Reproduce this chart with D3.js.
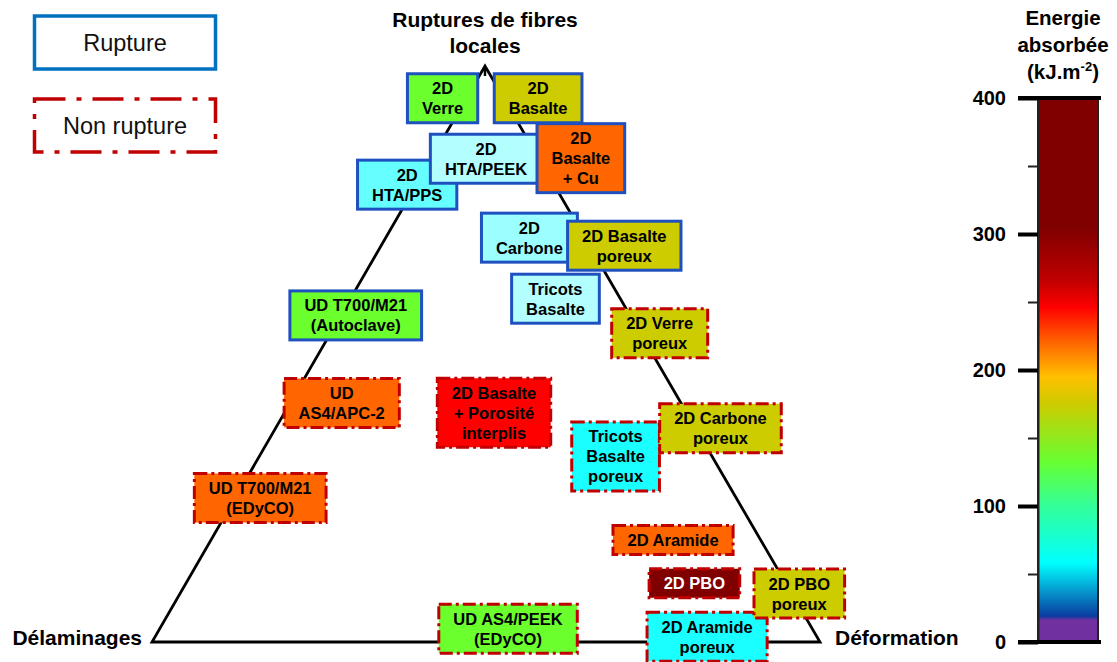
<!DOCTYPE html>
<html>
<head>
<meta charset="utf-8">
<script src="https://cdn.jsdelivr.net/npm/d3@7"></script>
<style>
  html, body { margin: 0; padding: 0; background: #fff; }
  svg { display: block; font-family: "Liberation Sans", Arial, sans-serif; }
</style>
</head>
<body>
<svg id="chart" width="1117" height="662"></svg>
<script>
// ---------------- DATA ----------------
const materials = [
  "2D\nVerre", "2D\nBasalte", "2D\nHTA/PPS", "2D\nHTA/PEEK", "2D\nBasalte\n+ Cu",
  "2D\nCarbone", "2D Basalte\nporeux", "Tricots\nBasalte", "UD T700/M21\n(Autoclave)",
  "2D Verre\nporeux", "UD\nAS4/APC-2", "2D Basalte\n+ Porosité\ninterplis",
  "Tricots\nBasalte\nporeux", "2D Carbone\nporeux", "UD T700/M21\n(EDyCO)",
  "2D Aramide", "2D PBO", "UD AS4/PEEK\n(EDyCO)", "2D Aramide\nporeux", "2D PBO\nporeux"
];
// position in the diagram: u = share along Délaminages -> Déformation, v = share towards Ruptures
const coordU = [0.435, 0.578, 0.382, 0.500, 0.642, 0.565, 0.707, 0.604, 0.305, 0.760,
                0.284, 0.512, 0.694, 0.851, 0.162, 0.780, 0.812, 0.533, 0.831, 0.969];
const coordV = [0.944, 0.944, 0.794, 0.839, 0.840, 0.702, 0.688, 0.596, 0.567, 0.536,
                0.415, 0.398, 0.322, 0.371, 0.250, 0.177, 0.102, 0.023, 0.009, 0.084];
// absorbed energy (kJ.m-2), estimated from fill colour
const energy = [140, 180, 45, 25, 220, 35, 180, 25, 140, 180,
                220, 250, 58, 180, 220, 220, 330, 140, 58, 180];
const rupture = [true, true, true, true, true, true, true, true, true, false,
                 false, false, false, false, false, false, false, false, false, false];

const cornerLabels = ["Délaminages", "Déformation", ["Ruptures de fibres", "locales"]];
const legendLabels = ["Rupture", "Non rupture"];

const cbarTitle = ["Energie", "absorbée"];
const cbarTicks = [0, 100, 200, 300, 400];
const cbarMinorTicks = [50, 150, 250, 350];
const cbarStopValues = [0, 16, 19, 58, 100, 132, 175, 195, 220, 246, 266, 305, 400];
const cbarStopColors = ["#7030A0", "#7030A0", "#0A3CA0", "#00FFFF", "#33FF99", "#66FF33",
                        "#CCCC00", "#FFC000", "#FF6600", "#FF0000", "#C00000", "#800000", "#800000"];

// ---------------- CHART ----------------
const svg = d3.select("#chart");

// triangle scales
const tx = d3.scaleLinear().domain([0, 1]).range([152, 820]);
const ty = d3.scaleLinear().domain([0, 1]).range([642, 66]);
const vertices = [[0, 0], [1, 0], [0.4985, 1]];

svg.append("path")
  .attr("d", d3.line().x(d => tx(d[0])).y(d => ty(d[1]))(vertices) + "Z")
  .attr("fill", "none").attr("stroke", "#000").attr("stroke-width", 2.8)
  .attr("stroke-linejoin", "miter");
// small stem at apex
svg.append("line")
  .attr("x1", tx(vertices[2][0])).attr("x2", tx(vertices[2][0]))
  .attr("y1", ty(vertices[2][1])).attr("y2", ty(vertices[2][1]) + 10)
  .attr("stroke", "#000").attr("stroke-width", 2.5);

// corner labels
const bold = { "font-weight": "bold", "font-size": "21px", "fill": "#000" };
function applyAttrs(sel, o) { Object.entries(o).forEach(([k, v]) => sel.attr(k, v)); return sel; }
applyAttrs(svg.append("text"), bold)
  .attr("x", tx(vertices[0][0]) - 10).attr("y", ty(vertices[0][1]) + 3)
  .attr("text-anchor", "end").text(cornerLabels[0]);
applyAttrs(svg.append("text"), bold)
  .attr("x", tx(vertices[1][0]) + 15).attr("y", ty(vertices[1][1]) + 3)
  .attr("text-anchor", "start").text(cornerLabels[1]);
const topLab = applyAttrs(svg.append("text"), bold).attr("text-anchor", "middle");
cornerLabels[2].forEach((t, i) => {
  topLab.append("tspan").attr("x", tx(vertices[2][0])).attr("y", 27 + i * 26).text(t);
});

// legend
const legendG = svg.append("g");
legendLabels.forEach((lab, i) => {
  const y0 = 14 + i * 83;
  legendG.append("rect")
    .attr("x", 34.5).attr("y", y0 + 2).attr("width", 181).attr("height", 53)
    .attr("fill", "#fff")
    .attr("stroke", i === 0 ? "#0070C0" : "#C00000")
    .attr("stroke-width", 3.5)
    .attr("stroke-dasharray", i === 0 ? null : "31 11 5 11");
  legendG.append("text")
    .attr("x", 125).attr("y", y0 + 37).attr("text-anchor", "middle")
    .attr("font-size", "23.5px").attr("fill", "#111").text(lab);
});

// box fills by energy class
const boxFill = d3.scaleThreshold()
  .domain([30, 40, 50, 100, 160, 200, 240, 300])
  .range(["#B3FFFF", "#9CFFFF", "#66FFFF", "#1AFFFF", "#6CFF2E", "#CCCC00", "#FF6600", "#FF0000", "#800000"]);

const rows = materials.map((m, i) => ({
  lines: m.split("\n"), u: coordU[i], v: coordV[i], e: energy[i], rupture: rupture[i]
}));

const FS = 16.5, LH = 20, PAD = 16;
const boxes = svg.append("g").selectAll("g.box").data(rows).join("g").attr("class", "box");
boxes.each(function (d) {
  const g = d3.select(this);
  const cx = tx(d.u), cy = ty(d.v);
  const n = d.lines.length;
  const rect = g.append("rect");
  const text = g.append("text")
    .attr("text-anchor", "middle").attr("font-weight", "bold").attr("font-size", FS + "px")
    .attr("fill", d.e > 300 ? "#fff" : "#000");
  d.lines.forEach((l, j) => {
    text.append("tspan").attr("x", cx).attr("y", cy + (j - (n - 1) / 2) * LH + FS * 0.36).text(l);
  });
  const tw = text.node().getBBox().width;
  const w = tw + 2 * PAD, h = LH * n + 12;
  rect.attr("x", cx - w / 2 + 1.5).attr("y", cy - h / 2 + 1.5)
    .attr("width", w - 3).attr("height", h - 3)
    .attr("fill", boxFill(d.e))
    .attr("stroke", d.rupture ? "#1F50C0" : "#C00000")
    .attr("stroke-width", 3)
    .attr("stroke-dasharray", d.rupture ? null : "13 4 3 4");
});

// colour bar
const by = d3.scaleLinear().domain([0, 400]).range([642, 98]);
const cScale = d3.scaleLinear().domain(cbarStopValues).range(cbarStopColors);
const defs = svg.append("defs");
const grad = defs.append("linearGradient").attr("id", "cbar")
  .attr("x1", 0).attr("y1", 1).attr("x2", 0).attr("y2", 0);
grad.selectAll("stop").data(cbarStopValues).join("stop")
  .attr("offset", d => d / 400).attr("stop-color", d => cScale(d));

const bx0 = 1038, bx1 = 1098;
svg.append("rect").attr("x", bx0).attr("y", by(400)).attr("width", bx1 - bx0)
  .attr("height", by(0) - by(400)).attr("fill", "url(#cbar)")
  .attr("stroke", "#222").attr("stroke-width", 2);

const axMajor = svg.append("g").attr("transform", `translate(${bx0},0)`)
  .call(d3.axisLeft(by).tickValues(cbarTicks).tickSize(20).tickPadding(12));
axMajor.select(".domain").attr("stroke", "#222").attr("stroke-width", 2);
axMajor.selectAll(".tick line").attr("stroke", "#000").attr("stroke-width", 4);
axMajor.selectAll(".tick text").attr("font-size", "20px").attr("font-weight", "bold")
  .attr("fill", "#000").attr("font-family", "Liberation Sans, Arial, sans-serif");
const axMinor = svg.append("g").attr("transform", `translate(${bx0},0)`)
  .call(d3.axisLeft(by).tickValues(cbarMinorTicks).tickSize(10).tickFormat(""));
axMinor.select(".domain").remove();
axMinor.selectAll(".tick line").attr("stroke", "#222").attr("stroke-width", 2);
// end caps across the bar
[0, 400].forEach(v => {
  svg.append("line").attr("x1", bx0 - 20).attr("x2", bx1 + 3)
    .attr("y1", by(v)).attr("y2", by(v)).attr("stroke", "#000").attr("stroke-width", 4);
});

// colour bar title
const tt = svg.append("text").attr("text-anchor", "middle")
  .attr("font-weight", "bold").attr("font-size", "20.5px").attr("fill", "#000");
cbarTitle.forEach((t, i) => {
  tt.append("tspan").attr("x", 1063).attr("y", 25 + i * 27).text(t);
});
const unit = svg.append("text").attr("text-anchor", "middle").attr("x", 1063).attr("y", 79)
  .attr("font-weight", "bold").attr("font-size", "20.5px").attr("fill", "#000");
unit.append("tspan").text("(kJ.m");
unit.append("tspan").attr("font-size", "13px").attr("dy", -8).text("-2");
unit.append("tspan").attr("dy", 8).text(")");
</script>
</body>
</html>
